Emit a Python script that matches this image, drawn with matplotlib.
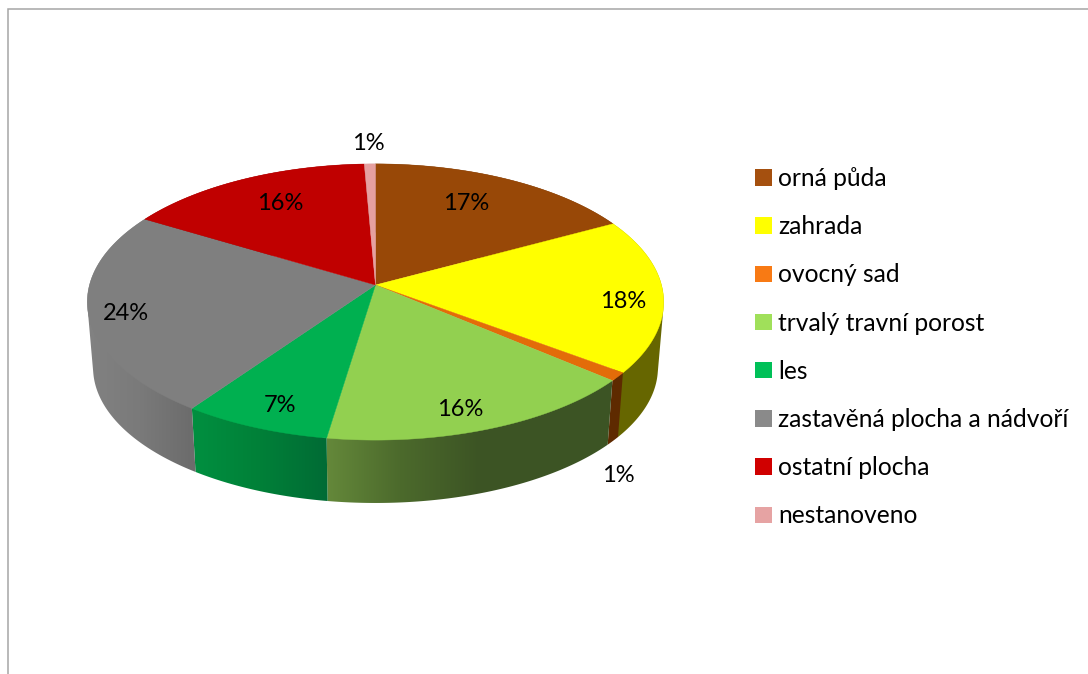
import numpy as np
import matplotlib
matplotlib.use("Agg")
import matplotlib.pyplot as plt
from matplotlib.colors import to_rgb
from matplotlib.patches import Polygon, Patch

categories = ["orná půda", "zahrada", "ovocný sad", "trvalý travní porost", "les",
              "zastavěná plocha a nádvoří", "ostatní plocha", "nestanoveno"]
values = [17.1, 18.1, 1.0, 16.2, 7.4, 23.8, 15.7, 0.7]
pct_labels = ["17%", "18%", "1%", "16%", "7%", "24%", "16%", "1%"]
top_colors = ["#984807", "#FFFF00", "#E36C09", "#92D050", "#00B050", "#7F7F7F", "#C00000", "#E6A0A0"]
legend_colors = ["#A5500F", "#FFFF00", "#F87A14", "#A0E05A", "#00C058", "#8A8A8A", "#D00000", "#E6A3A3"]

# side-wall shading: (pixel x, colour) stops for each slice
side_stops = [
    [(0, "#5A2B04"), (1088, "#5A2B04")],
    [(0, "#666600"), (1088, "#666600")],
    [(0, "#5E2A00"), (1088, "#5E2A00")],
    [(328, "#64883A"), (400, "#4C6A2C"), (480, "#3C5424"), (1088, "#3C5424")],
    [(191, "#009040"), (260, "#008038"), (328, "#006B35")],
    [(87, "#828282"), (140, "#7A7A7A"), (192, "#6C6C6C")],
    [(0, "#700000"), (1088, "#700000")],
    [(0, "#888888"), (1088, "#888888")],
]
label_pos = [(466, 204), (623, 301), (618, 475), (460, 409), (280, 406), (126, 314), (280, 204), (368, 144)]

CX, CY = 375.5, 285.0
B, A, K = 286.0, 136.0, 0.123
DEPTH, SCALE = 66.0, 0.98


def project(theta):
    x, y = np.sin(theta), np.cos(theta)
    w = 1 + K * y
    return CX + B * x / w, CY - A * y / w


def project_low(theta):
    X, Y = project(theta)
    return CX + SCALE * (X - CX), CY + DEPTH + SCALE * (Y - CY)


def convex_hull(points):
    pts = sorted(map(tuple, points))

    def half(seq):
        out = []
        for p in seq:
            while len(out) >= 2 and ((out[-1][0] - out[-2][0]) * (p[1] - out[-2][1])
                                     - (out[-1][1] - out[-2][1]) * (p[0] - out[-2][0])) <= 0:
                out.pop()
            out.append(p)
        return out[:-1]

    return np.array(half(pts) + half(pts[::-1]))


fig = plt.figure(figsize=(10.88, 6.74), dpi=100)
ax = fig.add_axes([0, 0, 1, 1])
ax.set_xlim(0, 1088)
ax.set_ylim(674, 0)
ax.axis("off")
FONT = "Lato"

ax.plot([8, 8, 1088], [674, 9, 9], color="#A6A6A6", lw=1.1, solid_joinstyle="miter", zorder=1)

edges = np.cumsum([0] + values) / sum(values) * 2 * np.pi

# side walls: a horizontal colour ramp clipped to each slice's wall outline
xs = np.arange(0, 1088) + 0.5
for i in range(len(values)):
    th = np.linspace(edges[i], edges[i + 1], 200)
    Xt, Yt = project(th)
    Xb, Yb = project_low(th)
    wall = convex_hull(np.column_stack([np.r_[Xt, Xb], np.r_[Yt, Yb]]))
    sx, sc = zip(*side_stops[i])
    rgb = np.array([to_rgb(c) for c in sc])
    ramp = np.stack([np.interp(xs, sx, rgb[:, k]) for k in range(3)], axis=-1)[None, :, :]
    patch = Polygon(wall, closed=True, facecolor="none", edgecolor="none", transform=ax.transData)
    ax.add_patch(patch)
    im = ax.imshow(ramp, extent=(0, 1088, 674, 0), aspect="auto", interpolation="nearest", zorder=2)
    im.set_clip_path(patch)
ax.set_xlim(0, 1088)
ax.set_ylim(674, 0)

# top faces
for i in range(len(values)):
    th = np.linspace(edges[i], edges[i + 1], 200)
    X, Y = project(th)
    pts = np.column_stack([np.r_[CX, X], np.r_[CY, Y]])
    ax.add_patch(Polygon(pts, closed=True, facecolor=top_colors[i], edgecolor=top_colors[i], lw=0.3, zorder=3))

for txt, (x, y) in zip(pct_labels, label_pos):
    ax.text(x, y, txt, ha="center", va="center", fontsize=17.0, family=FONT, color="black", zorder=5)

handles = [Patch(facecolor=c, edgecolor="none") for c in legend_colors]
leg = ax.legend(handles, categories, loc="upper left", bbox_to_anchor=(755, 167), bbox_transform=ax.transData,
                frameon=False, prop={"family": FONT, "size": 17.7}, borderpad=0, borderaxespad=0,
                labelspacing=1.025, handlelength=0.69, handleheight=0.65, handletextpad=0.24)
fig.savefig("out.png", dpi=100)
